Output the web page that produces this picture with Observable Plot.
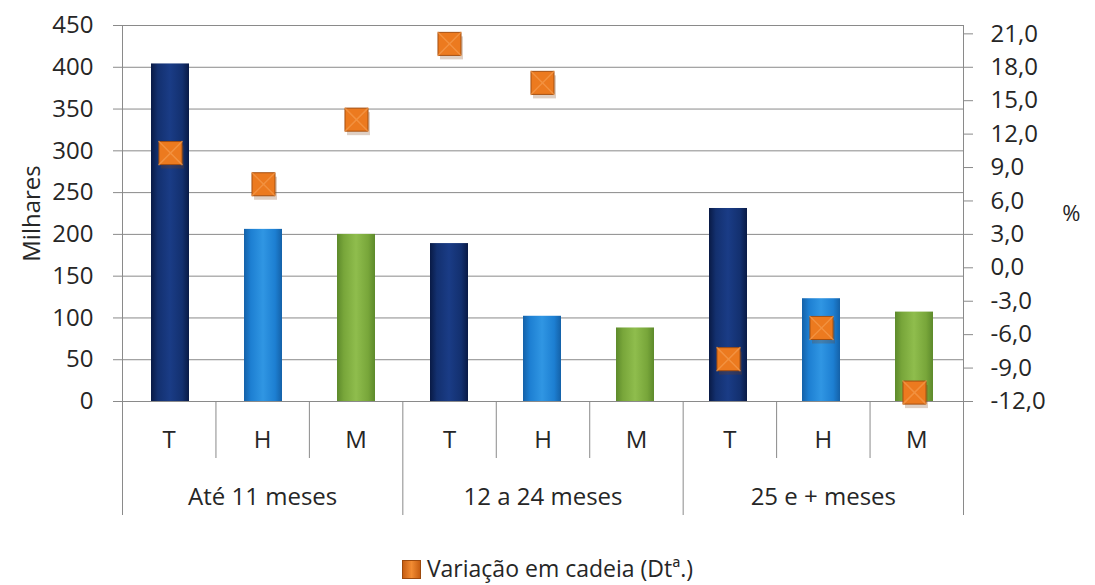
<!DOCTYPE html>
<html>
<head>
<meta charset="utf-8">
<script src="https://cdn.jsdelivr.net/npm/d3@7"></script>
<script src="https://cdn.jsdelivr.net/npm/@observablehq/plot@0.6"></script>
<style>
  html, body { margin: 0; padding: 0; background: #fff; }
  #chart { position: relative; width: 1095px; height: 585px; overflow: hidden; font-family: "Open Sans", sans-serif; color: #262626; }
  #chart > svg { position: absolute; left: 0; top: 0; }
  #legend { position: absolute; left: 0; top: 554px; width: 1095px; text-align: center; font-size: 23px; line-height: 28px; white-space: nowrap; }
  #legend .sw { display: inline-block; width: 19px; height: 19px; vertical-align: -2px; margin-right: 6px;
    background: linear-gradient(90deg, #c75e12, #f28c33 50%, #c75e12); border: 1px solid #9c4a0e; box-sizing: border-box; }
</style>
</head>
<body>
<div id="chart"></div>
<script>
// ---- data ----
const groups = ["Até 11 meses", "12 a 24 meses", "25 e + meses"];
const subs = ["T", "H", "M"];
const milhares = [404, 206, 200, 189, 102, 88, 231, 123, 107];
const variacao = [10.3, 7.5, 13.3, 20.1, 16.6, null, -8.2, -5.4, -11.2];
const leftTicks = [0, 50, 100, 150, 200, 250, 300, 350, 400, 450];
const rightTicks = [-12, -9, -6, -3, 0, 3, 6, 9, 12, 15, 18, 21];
const legendLabel = "Variação em cadeia (Dtª.)";

const keys = groups.flatMap(g => subs.map(s => g + "|" + s));
const rows = keys.map((k, i) => ({
  key: k, group: groups[Math.floor(i / subs.length)], sub: subs[i % subs.length],
  milhares: milhares[i], variacao: variacao[i], idx: i
}));

const W = 1095, H = 585;
const M = {top: 25, bottom: 184, left: 122, right: 132};
const grid = "#8a8a8a";
const ink = "#262626";
const fmt = d => d.toFixed(1).replace(".", ",");

const barColors = {
  T: ["#091a45", "#13306f", "#1a3c86"],
  H: ["#1461a8", "#1d7fd2", "#3096e3"],
  M: ["#5d8a2b", "#78a63a", "#8fbd4d"]
};

function defs() {
  const d = d3.create("svg:defs");
  for (const s of subs) {
    const [e, m, c] = barColors[s];
    const g = d.append("linearGradient").attr("id", "grad" + s).attr("x1", 0).attr("x2", 1).attr("y1", 0).attr("y2", 0);
    [[0, e], [0.18, m], [0.5, c], [0.82, m], [1, e]].forEach(([o, col]) =>
      g.append("stop").attr("offset", o).attr("stop-color", col));
  }
  return d.node();
}

const xBand = {type: "band", domain: keys, paddingInner: 0.59, paddingOuter: 0.295, axis: null};

// ---- bars + left axis ----
const bars = Plot.plot({
  width: W, height: H,
  marginTop: M.top, marginBottom: M.bottom, marginLeft: M.left, marginRight: M.right,
  style: {fontFamily: "Open Sans", fontSize: "22px", color: ink, background: "white"},
  x: xBand,
  y: {domain: [0, 450]},
  marks: [
    defs,
    Plot.gridY(leftTicks, {stroke: grid, strokeOpacity: 1}),
    Plot.frame({stroke: grid}),
    ...subs.map(s => Plot.barY(rows.filter(d => d.sub === s), {x: "key", y: "milhares", fill: `url(#grad${s})`})),
    Plot.axisY(leftTicks, {anchor: "left", tickSize: 9, tickPadding: 20, stroke: grid, fontSize: 24,
      label: "Milhares", labelAnchor: "center", labelOffset: 100, labelArrow: "none"})
  ]
});

// ---- category table under the bars ----
const groupEdges = d3.range(0, keys.length + 1, subs.length);
const subEdges = d3.range(1, keys.length).filter(i => i % subs.length !== 0);
const table = Plot.plot({
  width: W, height: H,
  marginTop: 401, marginBottom: 70, marginLeft: M.left, marginRight: M.right,
  style: {fontFamily: "Open Sans", fontSize: "23px", color: ink, background: "transparent"},
  x: {domain: [0, keys.length], axis: null},
  y: {domain: [0, 2], reverse: true, axis: null},
  marks: [
    Plot.ruleX(groupEdges, {x: d => d, y1: 0, y2: 2, stroke: grid}),
    Plot.ruleX(subEdges, {x: d => d, y1: 0, y2: 1, stroke: grid}),
    Plot.text(rows, {x: d => d.idx + 0.5, y: 0.5, dy: 10, text: "sub", fill: ink, fontSize: 24}),
    Plot.text(groups, {x: (d, i) => i * subs.length + subs.length / 2, y: 1.5, dy: 10, text: d => d, fill: ink, fontSize: 24})
  ]
});

// ---- variation markers + right axis ----
const pts = rows.filter(d => d.variacao != null);
const dots = Plot.plot({
  width: W, height: H,
  marginTop: M.top, marginBottom: M.bottom, marginLeft: M.left, marginRight: M.right,
  style: {fontFamily: "Open Sans", fontSize: "22px", color: ink, background: "transparent"},
  x: xBand,
  y: {domain: [-12, 21.75]},
  marks: [
    Plot.axisY(rightTicks, {anchor: "right", tickSize: 9, tickPadding: 18, stroke: grid, fontSize: 24,
      tickFormat: fmt, label: null}),
    Plot.text(["%"], {frameAnchor: "right", dx: 117, text: d => d, fill: ink, fontSize: 22}),
    Plot.dot(pts, {x: "key", y: "variacao", symbol: "square", r: 13,
      fill: "#7a3e12", fillOpacity: 0.25, dx: 2, dy: 4}),
    Plot.dot(pts, {x: "key", y: "variacao", symbol: "square", r: 13,
      fill: "#ec7a1f", stroke: "#a54f10", strokeWidth: 1}),
    Plot.dot(pts, {x: "key", y: "variacao", symbol: "times", r: 11,
      stroke: "#f8a45a", strokeWidth: 1.5, strokeOpacity: 0.55})
  ]
});

const chart = document.getElementById("chart");
chart.append(bars, table, dots);
const legend = document.createElement("div");
legend.id = "legend";
legend.innerHTML = `<span class="sw"></span>${legendLabel}`;
chart.append(legend);
</script>
</body>
</html>
